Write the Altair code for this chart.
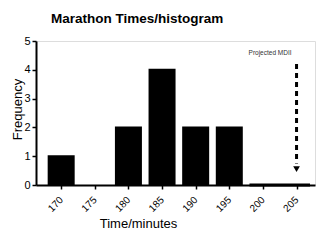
import altair as alt
import pandas as pd

bins = [170, 175, 180, 185, 190, 195, 200, 205]
counts = [1, None, 2, 4, 2, 2, None, None]

zero_start = [198]
zero_end = [207]

arrow_x = [205]
arrow_top = [4.2]
arrow_bottom = [0.75]
arrow_tip = [0.55]
note_text = ["Projected MDII"]
note_y = [4.5]

bars_df = pd.DataFrame({"time": bins, "freq": counts}).dropna()
zero_df = pd.DataFrame({"a": zero_start, "b": zero_end, "y": [0]})
arrow_df = pd.DataFrame({"x": arrow_x, "y1": arrow_top, "y2": arrow_bottom, "tip": arrow_tip})
note_df = pd.DataFrame({"x": arrow_x, "y": note_y, "t": note_text})

FONT = "Liberation Sans"

xscale = alt.Scale(domain=[167, 207], nice=False, zero=False)
yscale = alt.Scale(domain=[0, 5], nice=False)

xaxis = alt.Axis(
    values=bins, title="Time/minutes", grid=False, labelAngle=-45, labelAlign="right",
    labelBaseline="middle", labelPadding=9, tickSize=4, tickColor="black", tickWidth=1.5,
    labelOverlap=False, labelFlush=False, labelBound=False,
    domainColor="black", domainWidth=2, labelColor="black", labelFont=FONT, labelFontSize=10,
    titleFont=FONT, titleFontSize=13, titleFontWeight="normal", titleColor="black",
    titleX=102, titleY=42, titleBaseline="alphabetic", titleAlign="center",
)
yaxis = alt.Axis(
    values=[0, 1, 2, 3, 4, 5], title="Frequency", grid=False, tickSize=4, tickColor="black",
    labelOverlap=False, labelFlush=False, labelBound=False,
    tickWidth=1.5, domainColor="black", domainWidth=2, labelColor="black", labelFont=FONT,
    labelFontSize=11, labelPadding=2, titleFont=FONT, titleFontSize=13, titleFontWeight="normal",
    titleColor="black", titleX=-19, titleY=68, titleBaseline="middle", titleAlign="center",
)

bars = alt.Chart(bars_df).mark_bar(color="black", size=25, stroke="black", strokeWidth=2).encode(
    x=alt.X("time:Q", scale=xscale, axis=xaxis),
    y=alt.Y("freq:Q", scale=yscale, axis=yaxis),
)
zero = alt.Chart(zero_df).mark_rule(color="black", strokeWidth=3).encode(
    x=alt.X("a:Q", scale=xscale, axis=xaxis), x2="b:Q", y=alt.Y("y:Q", scale=yscale, axis=yaxis)
)

rule = alt.Chart(arrow_df).mark_rule(color="black", strokeWidth=3, strokeDash=[5, 4]).encode(
    x=alt.X("x:Q", scale=xscale, axis=xaxis), y=alt.Y("y1:Q", scale=yscale, axis=yaxis), y2="y2:Q"
)
tip = alt.Chart(arrow_df).mark_point(shape="triangle-down", filled=True, color="black", size=45, opacity=1).encode(
    x=alt.X("x:Q", scale=xscale, axis=xaxis), y=alt.Y("tip:Q", scale=yscale, axis=yaxis)
)
note = alt.Chart(note_df).mark_text(align="right", dx=-5, baseline="alphabetic", fontSize=6.5, font=FONT, color="#333333").encode(
    x=alt.X("x:Q", scale=xscale, axis=xaxis), y=alt.Y("y:Q", scale=yscale, axis=yaxis), text="t:N"
)

chart = alt.layer(bars, zero, rule, tip, note).properties(
    width=279, height=144,
    autosize=alt.AutoSizeParams(type="none"),
    padding={"left": 36, "top": 41, "right": 5, "bottom": 55},
    title=alt.TitleParams("Marathon Times/histogram", anchor="start", frame="group", dx=15, offset=10,
                          font=FONT, fontSize=13.5, fontWeight="bold", color="black"),
).configure_view(stroke=None).configure(background="white")

chart.save("out.html", embed_options={"renderer": "svg", "actions": False})
